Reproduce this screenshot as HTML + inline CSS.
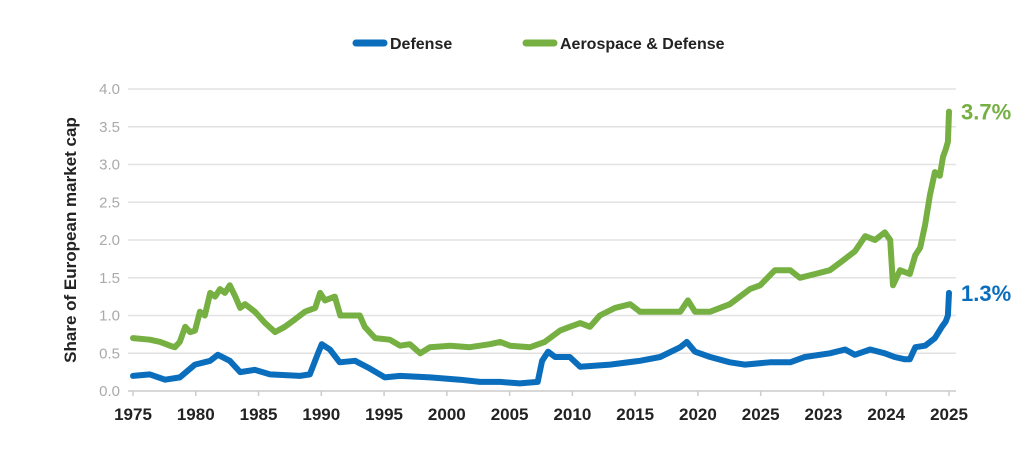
<!DOCTYPE html>
<html><head><meta charset="utf-8"><style>
body{margin:0;background:#fff;width:1024px;height:445px;overflow:hidden;font-family:"Liberation Sans",sans-serif}
</style></head><body>
<svg id="chart" width="1024" height="445" xmlns="http://www.w3.org/2000/svg">
<g>
<g><line x1="356" y1="43" x2="384" y2="43" stroke="#0a6ebd" stroke-width="7" stroke-linecap="round"/><text x="390" y="49" font-size="16" font-weight="bold" fill="#222">Defense</text></g>
<g><line x1="526" y1="43" x2="554" y2="43" stroke="#76b043" stroke-width="7" stroke-linecap="round"/><text x="560" y="49" font-size="16" font-weight="bold" fill="#222">Aerospace &amp; Defense</text></g>
</g>
<text transform="translate(76,240) rotate(-90)" text-anchor="middle" font-size="17" font-weight="bold" fill="#222">Share of European market cap</text>
<g id="grid"></g><g id="xaxis"></g><g id="series"></g>
</svg>
<script>
const yTicks=[0,0.5,1,1.5,2,2.5,3,3.5,4];
const xLabels=["1975","1980","1985","1990","1995","2000","2005","2010","2015","2020","2025","2023","2024","2025"];
const adT=[0,.31,.5,.68,.77,.86,.96,1.05,1.14,1.23,1.32,1.42,1.51,1.6,1.69,1.78,1.88,1.97,2.06,2.24,2.43,2.61,2.79,2.98,3.16,3.35,3.44,3.53,3.71,3.81,3.99,4.17,4.26,4.45,4.72,4.91,5.09,5.28,5.46,5.83,6.19,6.56,6.75,6.93,7.3,7.57,7.85,8.03,8.22,8.4,8.58,8.86,9.14,9.32,9.69,10.06,10.2,10.33,10.61,10.97,11.34,11.53,11.8,12.08,12.26,12.54,12.81,13,13.27,13.46,13.64,13.82,13.92,13.97,14.1,14.28,14.38,14.47,14.56,14.65,14.74,14.83,14.89,14.94,14.98,15];
const adV=[.7,.68,.65,.6,.58,.65,.85,.78,.8,1.05,1.0,1.3,1.25,1.35,1.3,1.4,1.25,1.1,1.15,1.05,.9,.78,.85,.95,1.05,1.1,1.3,1.2,1.25,1.0,1.0,1.0,.85,.7,.68,.6,.62,.5,.58,.6,.58,.62,.65,.6,.58,.65,.8,.85,.9,.85,1.0,1.1,1.15,1.05,1.05,1.05,1.2,1.05,1.05,1.15,1.35,1.4,1.6,1.6,1.5,1.55,1.6,1.7,1.85,2.05,2.0,2.1,2.0,1.4,1.6,1.55,1.8,1.9,2.2,2.6,2.9,2.85,3.1,3.2,3.3,3.7];
const defT=[0,.31,.59,.86,1.14,1.42,1.56,1.78,1.97,2.24,2.52,3.07,3.25,3.4,3.47,3.62,3.8,4.08,4.35,4.63,4.91,5.46,6.01,6.38,6.75,7.11,7.44,7.52,7.63,7.76,8.03,8.22,8.77,9.32,9.69,10.06,10.18,10.33,10.61,10.97,11.25,11.71,12.08,12.35,12.81,13.09,13.27,13.55,13.82,14.0,14.19,14.28,14.38,14.56,14.74,14.87,14.94,14.98,15];
const defV=[.2,.22,.15,.18,.35,.4,.48,.4,.25,.28,.22,.2,.22,.5,.62,.55,.38,.4,.3,.18,.2,.18,.15,.12,.12,.1,.12,.4,.52,.45,.45,.32,.35,.4,.45,.58,.65,.52,.45,.38,.35,.38,.38,.45,.5,.55,.48,.55,.5,.45,.42,.42,.58,.6,.7,.85,.92,1.0,1.3];

const X0=133,X1=949,Y0=391,PER=75.5;
const NS="http://www.w3.org/2000/svg";
function sxTick(i){return X0+i*(X1-X0)/(xLabels.length-1);}
function sxData(t){return X0+t*(X1-X0)/15;}
function sy(v){return Y0-v*PER;}

const grid=document.getElementById('grid');
yTicks.forEach(function(v){
 const l=document.createElementNS(NS,'line');
 l.setAttribute('x1',128);l.setAttribute('x2',956);
 l.setAttribute('y1',sy(v));l.setAttribute('y2',sy(v));
 l.setAttribute('stroke',v===0?'#ccc':'#e2e2e2');l.setAttribute('stroke-width',1.5);
 
 
 grid.appendChild(l);
 const t=document.createElementNS(NS,'text');
 t.setAttribute('x',120);t.setAttribute('y',sy(v)+5);t.setAttribute('text-anchor','end');
 t.setAttribute('font-size','15');t.setAttribute('fill','#aaa');
 t.textContent=v.toFixed(1);
 
 
 grid.appendChild(t);
});

const xa=document.getElementById('xaxis');
xLabels.forEach(function(lab,i){
 const x=sxTick(i);
 const tk=document.createElementNS(NS,'line');
 tk.setAttribute('x1',x);tk.setAttribute('x2',x);tk.setAttribute('y1',Y0);tk.setAttribute('y2',Y0+5);
 tk.setAttribute('stroke','#ccc');tk.setAttribute('stroke-width',1.5);
 
 
 xa.appendChild(tk);
 const t=document.createElementNS(NS,'text');
 t.setAttribute('x',x);t.setAttribute('y',420);t.setAttribute('text-anchor','middle');
 t.setAttribute('font-size','17');t.setAttribute('font-weight','bold');t.setAttribute('fill','#222');
 t.textContent=lab;
 
 
 xa.appendChild(t);
});

const series=document.getElementById('series');
function drawLine(ts,vs,color,name){
 let d='';
 ts.forEach(function(t,i){d+=(i?'L':'M')+sxData(t).toFixed(1)+','+sy(vs[i]).toFixed(1);});
 const p=document.createElementNS(NS,'path');
 p.setAttribute('d',d);p.setAttribute('fill','none');p.setAttribute('stroke',color);
 p.setAttribute('stroke-width',6);p.setAttribute('stroke-linejoin','round');p.setAttribute('stroke-linecap','round');
 
 
 series.appendChild(p);
 const last=vs[vs.length-1];
 const t=document.createElementNS(NS,'text');
 t.setAttribute('x',sxData(ts[ts.length-1])+12);t.setAttribute('y',sy(last)+8);
 t.setAttribute('font-size','22');t.setAttribute('font-weight','bold');t.setAttribute('fill',color);
 t.textContent=last.toFixed(1)+'%';
 
 
 series.appendChild(t);
}
drawLine(adT,adV,'#76b043','aerospace-defense-line');
drawLine(defT,defV,'#0a6ebd','defense-line');
</script>
</body></html>
